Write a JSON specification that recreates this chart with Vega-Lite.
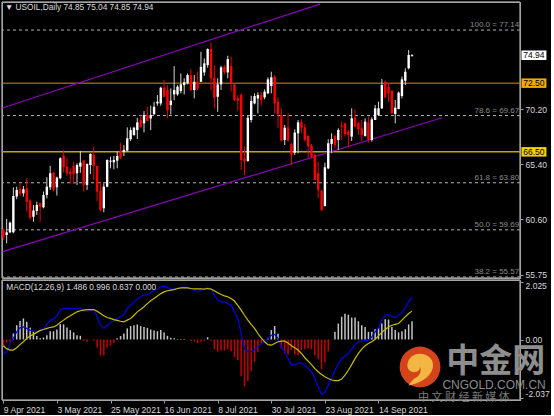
{"$schema":"https://vega.github.io/schema/vega-lite/v6.json","background":"#000000","padding":{"left":-1,"top":0,"right":0,"bottom":0},"spacing":2,"bounds":"flush","config":{"axis":{"grid":false,"domain":false,"title":null,"labelColor":"#d8d8d8","labelFont":"Liberation Sans","labelFontSize":8.6,"tickColor":"#a0a0a0","tickSize":3,"labelPadding":2,"labelOverlap":false,"labelFlush":false},"text":{"font":"Liberation Sans","fontSize":8.3}},"datasets":{"candles":[{"i":0,"o":59.73,"h":59.82,"l":58.8,"c":59.01,"d":"down"},{"i":1,"o":59.24,"h":60.64,"l":58.51,"c":59.47,"d":"up"},{"i":2,"o":59.47,"h":60.4,"l":59.39,"c":60.32,"d":"up"},{"i":3,"o":59.47,"h":63.4,"l":59.39,"c":62.65,"d":"up"},{"i":4,"o":62.59,"h":63.46,"l":62.36,"c":63.17,"d":"up"},{"i":5,"o":63.23,"h":63.75,"l":62.65,"c":62.82,"d":"down"},{"i":6,"o":62.88,"h":63.52,"l":62.59,"c":63.23,"d":"up"},{"i":7,"o":63.32,"h":64.19,"l":61.28,"c":62.15,"d":"down"},{"i":8,"o":62.24,"h":62.36,"l":60.55,"c":60.75,"d":"down"},{"i":9,"o":60.84,"h":61.86,"l":60.4,"c":61.37,"d":"up"},{"i":10,"o":61.34,"h":62.15,"l":60.99,"c":61.86,"d":"up"},{"i":11,"o":62.01,"h":62.06,"l":60.4,"c":61.72,"d":"down"},{"i":12,"o":61.66,"h":63.03,"l":61.57,"c":62.73,"d":"up"},{"i":13,"o":62.73,"h":64.28,"l":62.44,"c":63.46,"d":"up"},{"i":14,"o":63.4,"h":65.27,"l":63.17,"c":64.63,"d":"up"},{"i":15,"o":64.68,"h":64.71,"l":63.03,"c":63.23,"d":"down"},{"i":16,"o":63.4,"h":64.33,"l":62.68,"c":64.25,"d":"up"},{"i":17,"o":64.19,"h":66.02,"l":64.1,"c":65.94,"d":"up"},{"i":18,"o":66.17,"h":66.66,"l":64.68,"c":65.15,"d":"down"},{"i":19,"o":65.21,"h":65.94,"l":64.39,"c":64.63,"d":"down"},{"i":20,"o":64.74,"h":65.06,"l":63.75,"c":64.57,"d":"down"},{"i":21,"o":65.27,"h":65.64,"l":63.69,"c":64.57,"d":"down"},{"i":22,"o":64.63,"h":65.5,"l":63.61,"c":65.35,"d":"up"},{"i":23,"o":65.21,"h":66.58,"l":64.68,"c":65.56,"d":"up"},{"i":24,"o":65.73,"h":65.79,"l":63.03,"c":63.61,"d":"down"},{"i":25,"o":63.61,"h":65.5,"l":63.17,"c":65.44,"d":"up"},{"i":26,"o":65.35,"h":66.37,"l":64.57,"c":66.31,"d":"up"},{"i":27,"o":66.23,"h":66.95,"l":64.04,"c":65.27,"d":"down"},{"i":28,"o":65.27,"h":65.27,"l":62.21,"c":63.03,"d":"down"},{"i":29,"o":63.11,"h":63.9,"l":61.28,"c":61.42,"d":"down"},{"i":30,"o":61.57,"h":63.75,"l":61.22,"c":63.46,"d":"up"},{"i":31,"o":63.46,"h":65.85,"l":63.4,"c":65.79,"d":"up"},{"i":32,"o":65.64,"h":66.08,"l":65.06,"c":65.73,"d":"up"},{"i":33,"o":65.59,"h":66.14,"l":64.97,"c":65.79,"d":"up"},{"i":34,"o":65.73,"h":66.52,"l":65.06,"c":66.14,"d":"up"},{"i":35,"o":66.61,"h":67.3,"l":65.85,"c":65.94,"d":"down"},{"i":36,"o":66.49,"h":67.1,"l":66.14,"c":66.66,"d":"up"},{"i":37,"o":66.61,"h":68.64,"l":66.52,"c":67.68,"d":"up"},{"i":38,"o":67.6,"h":68.64,"l":67.44,"c":68.4,"d":"up"},{"i":39,"o":67.97,"h":68.69,"l":67.91,"c":68.61,"d":"up"},{"i":40,"o":68.4,"h":69.48,"l":67.62,"c":69.07,"d":"up"},{"i":41,"o":69.28,"h":69.71,"l":68.61,"c":68.69,"d":"down"},{"i":42,"o":68.99,"h":70.06,"l":68.2,"c":69.71,"d":"up"},{"i":43,"o":69.71,"h":70.44,"l":69.19,"c":69.19,"d":"down"},{"i":44,"o":69.42,"h":70.53,"l":68.4,"c":69.71,"d":"up"},{"i":45,"o":69.8,"h":70.88,"l":69.71,"c":70.44,"d":"up"},{"i":46,"o":70.73,"h":71.46,"l":70.53,"c":70.88,"d":"up"},{"i":47,"o":70.73,"h":72.19,"l":70.53,"c":72.1,"d":"up"},{"i":48,"o":72.1,"h":72.77,"l":71.31,"c":71.31,"d":"down"},{"i":49,"o":71.9,"h":72.33,"l":69.42,"c":70.15,"d":"down"},{"i":50,"o":70.59,"h":72.04,"l":69.77,"c":70.97,"d":"up"},{"i":51,"o":71.52,"h":73.99,"l":71.02,"c":71.9,"d":"up"},{"i":52,"o":71.52,"h":72.33,"l":71.4,"c":72.19,"d":"up"},{"i":53,"o":71.81,"h":73.35,"l":71.61,"c":72.39,"d":"up"},{"i":54,"o":72.33,"h":72.92,"l":71.52,"c":72.57,"d":"up"},{"i":55,"o":72.48,"h":73.35,"l":72.39,"c":73.21,"d":"up"},{"i":56,"o":73.21,"h":73.73,"l":71.81,"c":71.9,"d":"down"},{"i":57,"o":71.9,"h":73.21,"l":71.17,"c":72.62,"d":"up"},{"i":58,"o":72.62,"h":73.5,"l":71.9,"c":72.04,"d":"down"},{"i":59,"o":72.62,"h":75.24,"l":72.62,"c":73.93,"d":"up"},{"i":60,"o":73.44,"h":74.66,"l":73.15,"c":74.23,"d":"up"},{"i":61,"o":74.08,"h":75.54,"l":73.85,"c":75.48,"d":"up"},{"i":62,"o":75.48,"h":76.06,"l":71.9,"c":72.92,"d":"down"},{"i":63,"o":72.97,"h":74.02,"l":70.3,"c":71.23,"d":"down"},{"i":64,"o":71.31,"h":72.92,"l":70.0,"c":72.39,"d":"up"},{"i":65,"o":72.39,"h":74.02,"l":71.9,"c":73.88,"d":"up"},{"i":66,"o":73.93,"h":74.08,"l":73.27,"c":73.44,"d":"down"},{"i":67,"o":73.44,"h":74.9,"l":72.92,"c":74.6,"d":"up"},{"i":68,"o":74.02,"h":74.81,"l":71.75,"c":72.48,"d":"down"},{"i":69,"o":72.39,"h":72.48,"l":70.94,"c":71.02,"d":"down"},{"i":70,"o":71.17,"h":71.46,"l":70.06,"c":70.97,"d":"down"},{"i":71,"o":71.46,"h":71.61,"l":64.91,"c":65.78,"d":"down"},{"i":72,"o":65.93,"h":66.95,"l":64.47,"c":65.64,"d":"down"},{"i":73,"o":65.7,"h":69.71,"l":65.64,"c":69.48,"d":"up"},{"i":74,"o":69.28,"h":71.4,"l":69.07,"c":70.94,"d":"up"},{"i":75,"o":70.73,"h":71.61,"l":70.65,"c":71.37,"d":"up"},{"i":76,"o":71.17,"h":71.69,"l":69.86,"c":71.46,"d":"up"},{"i":77,"o":71.46,"h":71.75,"l":70.53,"c":71.02,"d":"down"},{"i":78,"o":71.26,"h":71.96,"l":71.09,"c":71.76,"d":"up"},{"i":79,"o":71.61,"h":73.01,"l":71.55,"c":72.83,"d":"up"},{"i":80,"o":72.25,"h":73.5,"l":71.61,"c":73.01,"d":"up"},{"i":81,"o":73.07,"h":73.21,"l":69.87,"c":70.74,"d":"down"},{"i":82,"o":70.88,"h":71.26,"l":68.56,"c":69.81,"d":"down"},{"i":83,"o":69.72,"h":70.3,"l":67.39,"c":67.48,"d":"down"},{"i":84,"o":67.54,"h":68.85,"l":67.1,"c":68.61,"d":"up"},{"i":85,"o":68.64,"h":69.87,"l":67.39,"c":67.48,"d":"down"},{"i":86,"o":67.16,"h":67.3,"l":65.35,"c":66.23,"d":"down"},{"i":87,"o":66.43,"h":68.47,"l":66.23,"c":68.18,"d":"up"},{"i":88,"o":68.12,"h":69.28,"l":66.37,"c":69.08,"d":"up"},{"i":89,"o":69.08,"h":69.34,"l":68.18,"c":68.61,"d":"down"},{"i":90,"o":68.64,"h":68.93,"l":67.39,"c":67.54,"d":"down"},{"i":91,"o":67.89,"h":67.97,"l":65.94,"c":67.01,"d":"down"},{"i":92,"o":67.07,"h":67.19,"l":65.94,"c":66.08,"d":"down"},{"i":93,"o":66.23,"h":66.37,"l":64.04,"c":64.04,"d":"down"},{"i":94,"o":64.63,"h":65.64,"l":62.44,"c":63.17,"d":"down"},{"i":95,"o":63.11,"h":63.17,"l":61.34,"c":61.42,"d":"down"},{"i":96,"o":61.77,"h":65.56,"l":61.71,"c":65.15,"d":"up"},{"i":97,"o":65.06,"h":67.6,"l":64.98,"c":67.25,"d":"up"},{"i":98,"o":67.19,"h":68.12,"l":66.37,"c":67.62,"d":"up"},{"i":99,"o":67.89,"h":67.97,"l":66.81,"c":67.1,"d":"down"},{"i":100,"o":67.54,"h":68.56,"l":66.66,"c":68.41,"d":"up"},{"i":101,"o":68.79,"h":69.14,"l":67.54,"c":68.7,"d":"down"},{"i":102,"o":68.99,"h":69.05,"l":67.83,"c":68.06,"d":"down"},{"i":103,"o":68.26,"h":68.41,"l":66.87,"c":67.97,"d":"down"},{"i":104,"o":67.83,"h":70.3,"l":67.45,"c":69.43,"d":"up"},{"i":105,"o":69.52,"h":70.22,"l":68.64,"c":68.7,"d":"down"},{"i":106,"o":68.99,"h":69.14,"l":67.97,"c":68.47,"d":"down"},{"i":107,"o":68.56,"h":69.28,"l":67.45,"c":67.97,"d":"down"},{"i":108,"o":67.89,"h":69.43,"l":67.83,"c":69.14,"d":"up"},{"i":109,"o":69.05,"h":69.57,"l":67.3,"c":67.54,"d":"down"},{"i":110,"o":67.54,"h":69.52,"l":67.39,"c":69.34,"d":"up"},{"i":111,"o":69.28,"h":70.59,"l":69.28,"c":70.3,"d":"up"},{"i":112,"o":69.72,"h":70.88,"l":69.63,"c":70.3,"d":"up"},{"i":113,"o":70.3,"h":72.86,"l":70.24,"c":72.34,"d":"up"},{"i":114,"o":72.63,"h":72.72,"l":71.18,"c":71.26,"d":"down"},{"i":115,"o":72.19,"h":72.49,"l":70.88,"c":71.61,"d":"down"},{"i":116,"o":71.85,"h":71.85,"l":69.81,"c":69.87,"d":"down"},{"i":117,"o":69.81,"h":71.03,"l":68.99,"c":70.36,"d":"up"},{"i":118,"o":70.24,"h":71.76,"l":70.22,"c":71.67,"d":"up"},{"i":119,"o":71.38,"h":73.07,"l":71.18,"c":72.83,"d":"up"},{"i":120,"o":72.72,"h":73.8,"l":72.34,"c":73.5,"d":"up"},{"i":121,"o":73.8,"h":75.4,"l":73.71,"c":74.96,"d":"up"},{"i":122,"o":74.85,"h":75.04,"l":74.85,"c":74.94,"d":"up"}],"macd":[{"i":0,"m":-0.49,"s":-0.22,"h":-0.26},{"i":1,"m":-0.46,"s":-0.32,"h":-0.1},{"i":2,"m":-0.14,"s":-0.37,"h":-0.08},{"i":3,"m":0.04,"s":-0.37,"h":0.21},{"i":4,"m":0.27,"s":-0.29,"h":0.5},{"i":5,"m":0.41,"s":-0.18,"h":0.65},{"i":6,"m":0.44,"s":-0.08,"h":0.74},{"i":7,"m":0.39,"s":0.04,"h":0.62},{"i":8,"m":0.33,"s":0.12,"h":0.41},{"i":9,"m":0.29,"s":0.18,"h":0.27},{"i":10,"m":0.29,"s":0.25,"h":0.12},{"i":11,"m":0.29,"s":0.32,"h":0.04},{"i":12,"m":0.36,"s":0.35,"h":0.07},{"i":13,"m":0.53,"s":0.39,"h":0.15},{"i":14,"m":0.68,"s":0.42,"h":0.29},{"i":15,"m":0.71,"s":0.44,"h":0.29},{"i":16,"m":0.83,"s":0.5,"h":0.35},{"i":17,"m":1.03,"s":0.6,"h":0.54},{"i":18,"m":1.09,"s":0.68,"h":0.53},{"i":19,"m":1.1,"s":0.76,"h":0.42},{"i":20,"m":1.09,"s":0.83,"h":0.33},{"i":21,"m":1.09,"s":0.9,"h":0.25},{"i":22,"m":1.08,"s":0.97,"h":0.15},{"i":23,"m":1.11,"s":1.01,"h":0.13},{"i":24,"m":1.01,"s":1.03,"h":-0.05},{"i":25,"m":0.99,"s":1.05,"h":-0.08},{"i":26,"m":1.03,"s":1.05,"h":0},{"i":27,"m":1.05,"s":1.05,"h":-0.04},{"i":28,"m":0.8,"s":0.99,"h":-0.29},{"i":29,"m":0.5,"s":0.91,"h":-0.56},{"i":30,"m":0.39,"s":0.83,"h":-0.56},{"i":31,"m":0.5,"s":0.77,"h":-0.29},{"i":32,"m":0.6,"s":0.74,"h":-0.22},{"i":33,"m":0.65,"s":0.7,"h":-0.12},{"i":34,"m":0.74,"s":0.67,"h":0.04},{"i":35,"m":0.8,"s":0.64,"h":0.12},{"i":36,"m":0.88,"s":0.62,"h":0.21},{"i":37,"m":1.09,"s":0.68,"h":0.39},{"i":38,"m":1.2,"s":0.74,"h":0.47},{"i":39,"m":1.32,"s":0.85,"h":0.5},{"i":40,"m":1.42,"s":0.97,"h":0.53},{"i":41,"m":1.5,"s":1.05,"h":0.47},{"i":42,"m":1.56,"s":1.15,"h":0.44},{"i":43,"m":1.58,"s":1.26,"h":0.41},{"i":44,"m":1.64,"s":1.36,"h":0.35},{"i":45,"m":1.73,"s":1.44,"h":0.32},{"i":46,"m":1.77,"s":1.53,"h":0.29},{"i":47,"m":1.85,"s":1.61,"h":0.33},{"i":48,"m":1.87,"s":1.67,"h":0.25},{"i":49,"m":1.82,"s":1.71,"h":0.13},{"i":50,"m":1.77,"s":1.73,"h":0.06},{"i":51,"m":1.77,"s":1.75,"h":0.04},{"i":52,"m":1.79,"s":1.79,"h":0.02},{"i":53,"m":1.81,"s":1.81,"h":0.02},{"i":54,"m":1.84,"s":1.81,"h":0.02},{"i":55,"m":1.81,"s":1.81,"h":0},{"i":56,"m":1.77,"s":1.79,"h":-0.05},{"i":57,"m":1.73,"s":1.78,"h":-0.07},{"i":58,"m":1.67,"s":1.78,"h":-0.13},{"i":59,"m":1.73,"s":1.78,"h":-0.08},{"i":60,"m":1.77,"s":1.77,"h":-0.05},{"i":61,"m":1.82,"s":1.79,"h":0.08},{"i":62,"m":1.77,"s":1.77,"h":-0.04},{"i":63,"m":1.56,"s":1.71,"h":-0.34},{"i":64,"m":1.39,"s":1.64,"h":-0.43},{"i":65,"m":1.32,"s":1.58,"h":-0.39},{"i":66,"m":1.32,"s":1.53,"h":-0.39},{"i":67,"m":1.26,"s":1.5,"h":-0.34},{"i":68,"m":1.2,"s":1.44,"h":-0.41},{"i":69,"m":0.97,"s":1.35,"h":-0.62},{"i":70,"m":0.74,"s":1.2,"h":-0.73},{"i":71,"m":0.21,"s":1.03,"h":-1.29},{"i":72,"m":-0.34,"s":0.85,"h":-1.64},{"i":73,"m":-0.43,"s":0.68,"h":-1.46},{"i":74,"m":-0.43,"s":0.53,"h":-1.11},{"i":75,"m":-0.37,"s":0.39,"h":-0.78},{"i":76,"m":-0.26,"s":0.21,"h":-0.43},{"i":77,"m":-0.14,"s":0.06,"h":-0.14},{"i":78,"m":-0.08,"s":-0.08,"h":-0.02},{"i":79,"m":0.04,"s":-0.18,"h":0.06},{"i":80,"m":0.15,"s":-0.2,"h":0.33},{"i":81,"m":0.18,"s":-0.14,"h":0.47},{"i":82,"m":0.04,"s":-0.08,"h":0.2},{"i":83,"m":-0.26,"s":-0.06,"h":-0.32},{"i":84,"m":-0.43,"s":-0.06,"h":-0.49},{"i":85,"m":-0.67,"s":-0.12,"h":-0.53},{"i":86,"m":-0.9,"s":-0.22,"h":-0.37},{"i":87,"m":-0.88,"s":-0.29,"h":-0.53},{"i":88,"m":-0.84,"s":-0.37,"h":-0.55},{"i":89,"m":-0.82,"s":-0.49,"h":-0.37},{"i":90,"m":-0.9,"s":-0.64,"h":-0.34},{"i":91,"m":-1.02,"s":-0.76,"h":-0.32},{"i":92,"m":-1.13,"s":-0.88,"h":-0.34},{"i":93,"m":-1.37,"s":-1.02,"h":-0.55},{"i":94,"m":-1.66,"s":-1.13,"h":-0.69},{"i":95,"m":-1.92,"s":-1.23,"h":-1.04},{"i":96,"m":-1.86,"s":-1.31,"h":-0.81},{"i":97,"m":-1.6,"s":-1.37,"h":-0.41},{"i":98,"m":-1.35,"s":-1.42,"h":-0.01},{"i":99,"m":-1.08,"s":-1.44,"h":0.27},{"i":100,"m":-0.84,"s":-1.44,"h":0.56},{"i":101,"m":-0.67,"s":-1.39,"h":0.8},{"i":102,"m":-0.58,"s":-1.25,"h":0.9},{"i":103,"m":-0.49,"s":-1.08,"h":0.87},{"i":104,"m":-0.34,"s":-0.88,"h":0.77},{"i":105,"m":-0.18,"s":-0.67,"h":0.77},{"i":106,"m":-0.08,"s":-0.49,"h":0.64},{"i":107,"m":-0.06,"s":-0.34,"h":0.5},{"i":108,"m":-0.04,"s":-0.22,"h":0.44},{"i":109,"m":-0.02,"s":-0.14,"h":0.27},{"i":110,"m":0.09,"s":-0.08,"h":0.27},{"i":111,"m":0.27,"s":0.01,"h":0.36},{"i":112,"m":0.41,"s":0.13,"h":0.41},{"i":113,"m":0.68,"s":0.25,"h":0.56},{"i":114,"m":0.85,"s":0.35,"h":0.71},{"i":115,"m":0.88,"s":0.44,"h":0.7},{"i":116,"m":0.8,"s":0.5,"h":0.44},{"i":117,"m":0.77,"s":0.53,"h":0.33},{"i":118,"m":0.85,"s":0.56,"h":0.25},{"i":119,"m":0.95,"s":0.68,"h":0.29},{"i":120,"m":1.11,"s":0.8,"h":0.36},{"i":121,"m":1.32,"s":0.91,"h":0.53},{"i":122,"m":1.486,"s":0.996,"h":0.637}],"fib":[{"level":"100.0 = 77.14","price":77.14},{"level":"78.6 = 69.67","price":69.67},{"level":"61.8 = 63.80","price":63.8},{"level":"50.0 = 59.69","price":59.69},{"level":"38.2 = 55.57","price":55.57}],"channel":[{"line":"upper","i":-0.3,"price":70.33},{"line":"upper","i":94.5,"price":79.41},{"line":"lower","i":-0.2,"price":57.78},{"line":"lower","i":131,"price":69.48}],"levels":[{"price":72.5,"line":"a"},{"price":66.5,"line":"b"}],"tags":[{"label":"74.94","price":74.94},{"label":"72.50","price":72.5},{"label":"66.50","price":66.5}],"macdLabels":[{"t":"2.025","v":1.877},{"t":"0.00","v":0},{"t":"-2.037","v":-1.91}],"xEdges":[{"x":-0.39},{"x":154.24}]},"vconcat":[{"width":518,"height":276,"layer":[{"data":{"name":"fib"},"mark":{"type":"rule","stroke":"#b4b4b4","strokeWidth":1,"strokeDash":[3,3]},"encoding":{"y":{"field":"price","type":"quantitative","scale":{"domain":[55.48,79.59],"nice":false,"zero":false},"axis":{"orient":"right","values":[77.4,70.2,67.8,65.4,63,60.6,58.2,55.75],"format":".2f"}}}},{"data":{"name":"xEdges"},"mark":{"type":"rule","stroke":"#909090","strokeWidth":1.5,"clip":false},"encoding":{"x":{"field":"x","type":"quantitative"}}},{"data":{"values":[{"y":55.48},{"y":79.59}]},"mark":{"type":"rule","stroke":"#909090","strokeWidth":1.5,"clip":false},"encoding":{"y":{"field":"y","type":"quantitative"}}},{"data":{"name":"fib"},"mark":{"type":"text","align":"right","baseline":"bottom","dy":-1,"color":"#8a8a8a","fontSize":8},"encoding":{"x":{"datum":154,"scale":{"domain":[-0.39,154.24],"nice":false,"zero":false,"padding":0},"axis":null},"y":{"field":"price","type":"quantitative"},"text":{"field":"level"}}},{"data":{"name":"levels"},"mark":{"type":"rule"},"encoding":{"y":{"field":"price","type":"quantitative"},"color":{"field":"line","type":"nominal","legend":null,"scale":{"domain":["a","b"],"range":["#d98e04","#c8a400"]}},"strokeWidth":{"field":"line","type":"nominal","legend":null,"scale":{"domain":["a","b"],"range":[1,1.5]}}}},{"data":{"name":"channel"},"mark":{"type":"line","stroke":"#8a06b8","strokeWidth":1.2,"clip":false},"encoding":{"x":{"field":"i","type":"quantitative"},"y":{"field":"price","type":"quantitative"},"detail":{"field":"line"}}},{"data":{"name":"candles"},"mark":{"type":"rule","strokeWidth":1},"encoding":{"x":{"field":"i","type":"quantitative"},"y":{"field":"l","type":"quantitative"},"y2":{"field":"h"},"color":{"field":"d","type":"nominal","legend":null,"scale":{"domain":["up","down"],"range":["#d6d6d6","#e80000"]}}}},{"data":{"name":"candles"},"mark":{"type":"bar","size":2.4},"encoding":{"x":{"field":"i","type":"quantitative"},"y":{"field":"o","type":"quantitative"},"y2":{"field":"c"},"fill":{"field":"d","type":"nominal","legend":null,"scale":{"domain":["up","down"],"range":["#ffffff","#ff0000"]}}}},{"data":{"values":[{"t":"▼  USOIL,Daily  74.85 75.04 74.85 74.94","i":0.5,"price":79.06}]},"mark":{"type":"text","align":"left","baseline":"middle","color":"#dcdcdc"},"encoding":{"x":{"field":"i","type":"quantitative"},"y":{"field":"price","type":"quantitative"},"text":{"field":"t"}}},{"data":{"name":"tags"},"mark":{"type":"point","filled":true,"opacity":1,"clip":false,"size":625,"shape":"M-1,-0.38H1V0.38H-1Z"},"encoding":{"x":{"datum":158.4},"y":{"field":"price","type":"quantitative"},"fill":{"field":"label","type":"nominal","legend":null,"scale":{"domain":["74.94","72.50","66.50"],"range":["#ffffff","#f5a800","#f2d200"]}}}},{"data":{"name":"tags"},"mark":{"type":"text","color":"#000000","align":"center","baseline":"middle","clip":false,"fontSize":8.5},"encoding":{"x":{"datum":158.4},"y":{"field":"price","type":"quantitative"},"text":{"field":"label"}}}],"resolve":{"scale":{"fill":"independent","color":"independent"}}},{"width":518,"height":120,"layer":[{"data":{"name":"macd"},"mark":{"type":"bar","size":1.5},"encoding":{"x":{"field":"i","type":"quantitative","scale":{"domain":[-0.39,154.24],"nice":false,"zero":false,"padding":0},"axis":{"values":[0,16,32,48,64,80,96,112],"labelAlign":"left","labelExpr":"{'0':'9 Apr 2021','16':'3 May 2021','32':'25 May 2021','48':'16 Jun 2021','64':'8 Jul 2021','80':'30 Jul 2021','96':'23 Aug 2021','112':'14 Sep 2021'}[''+datum.value]"}},"y":{"field":"h","type":"quantitative","scale":{"domain":[-2.123,2.088],"nice":false,"zero":false},"axis":{"orient":"right","values":[2.025,0,-2.037],"labels":false}},"y2":{"datum":0},"color":{"condition":{"test":"datum.h<0","value":"#c80000"},"value":"#c4c4c4"}}},{"data":{"name":"xEdges"},"mark":{"type":"rule","stroke":"#909090","strokeWidth":1.5,"clip":false},"encoding":{"x":{"field":"x","type":"quantitative"}}},{"data":{"values":[{"y":-2.123},{"y":2.088}]},"mark":{"type":"rule","stroke":"#909090","strokeWidth":1.5,"clip":false},"encoding":{"y":{"field":"y","type":"quantitative"}}},{"data":{"name":"macd"},"mark":{"type":"line","stroke":"#0000e6","strokeWidth":1.2},"encoding":{"x":{"field":"i","type":"quantitative"},"y":{"field":"m","type":"quantitative"}}},{"data":{"name":"macd"},"mark":{"type":"line","stroke":"#c8bc00","strokeWidth":1.2},"encoding":{"x":{"field":"i","type":"quantitative"},"y":{"field":"s","type":"quantitative"}}},{"data":{"name":"macdLabels"},"mark":{"type":"text","align":"left","baseline":"middle","color":"#d8d8d8","clip":false,"fontSize":8.5},"encoding":{"x":{"datum":155.9},"y":{"field":"v","type":"quantitative"},"text":{"field":"t"}}},{"data":{"values":[{"t":"MACD(12,26,9) 1.486 0.996 0.637 0.000","i":0.9,"v":1.82}]},"mark":{"type":"text","align":"left","baseline":"middle","color":"#dcdcdc"},"encoding":{"x":{"field":"i","type":"quantitative"},"y":{"field":"v","type":"quantitative"},"text":{"field":"t"}}},{"data":{"values":[{"i":124.4,"v":-0.965}]},"mark":{"type":"point","filled":true,"opacity":1,"size":1662,"shape":"circle","fill":"#d5431a"},"encoding":{"x":{"field":"i","type":"quantitative"},"y":{"field":"v","type":"quantitative"}}},{"data":{"values":[{"i":124.4,"v":-0.965}]},"mark":{"type":"point","filled":true,"opacity":1,"size":2116,"fill":"#f2b642","shape":"M-0.5,0.8 C0,0.7 0.45,0.45 0.55,0.05 C0.65,-0.35 0.3,-0.6 -0.05,-0.58 C-0.4,-0.55 -0.55,-0.3 -0.55,-0.05 C-0.55,0.12 -0.4,0.25 -0.2,0.22 C-0.05,0.2 0.02,0.08 -0.03,-0.03 C0.1,0.15 0,0.4 -0.25,0.5 C-0.35,0.6 -0.45,0.7 -0.5,0.8Z"},"encoding":{"x":{"field":"i","type":"quantitative"},"y":{"field":"v","type":"quantitative"}}},{"data":{"values":[{"t":"中金网","i":147,"v":-0.79}]},"mark":{"type":"text","font":"Noto Sans CJK SC","fontSize":33,"fontWeight":"bold","color":"#8e8e8e","align":"center","baseline":"middle","clip":false},"encoding":{"x":{"field":"i","type":"quantitative"},"y":{"field":"v","type":"quantitative"},"text":{"field":"t"}}},{"data":{"values":[{"t":"CNGOLD.COM.CN","i":146.5,"v":-1.6}]},"mark":{"type":"text","fontSize":12,"color":"#8a8a8a","align":"center","baseline":"middle","clip":false},"encoding":{"x":{"field":"i","type":"quantitative"},"y":{"field":"v","type":"quantitative"},"text":{"field":"t"}}},{"data":{"values":[{"t":"中   文   财   经   新   媒   体","i":137.5,"v":-2.05}]},"mark":{"type":"text","font":"Noto Sans CJK SC","fontSize":11,"color":"#7c7c7c","align":"center","baseline":"middle","clip":false},"encoding":{"x":{"field":"i","type":"quantitative"},"y":{"field":"v","type":"quantitative"},"text":{"field":"t"}}}]}]}
